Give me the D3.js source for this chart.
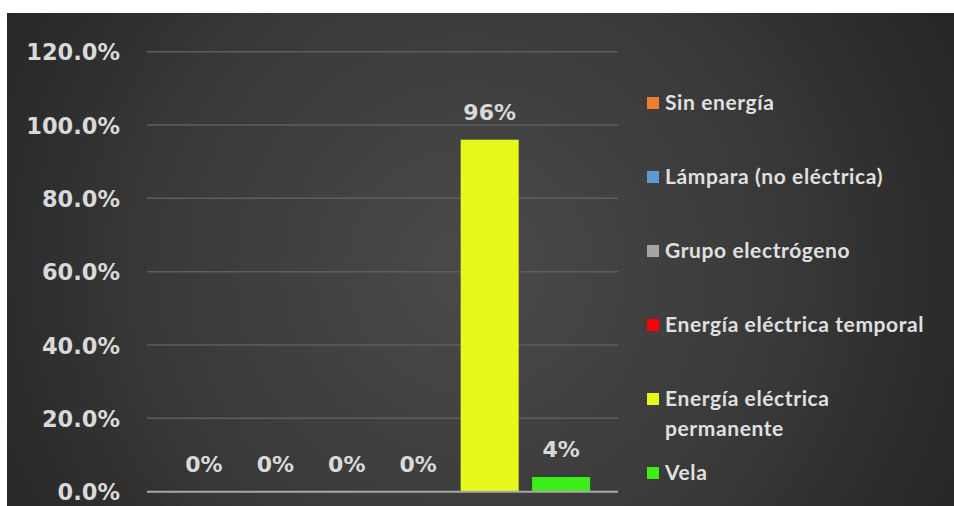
<!DOCTYPE html>
<html>
<head>
<meta charset="utf-8">
<script src="https://cdn.jsdelivr.net/npm/d3@7/dist/d3.min.js"></script>
<style>
  html, body { margin: 0; padding: 0; background: #ffffff; }
  svg { display: block; }
</style>
</head>
<body>
<svg id="chart" width="954" height="506"></svg>
<script>
// Fuente de energía para alumbrado (proporción de hogares)
const series = ["Sin energía", "Lámpara (no eléctrica)", "Grupo electrógeno",
                "Energía eléctrica temporal", "Energía eléctrica permanente", "Vela"];
const values = [0, 0, 0, 0, 0.96, 0.04];
const valueLabels = ["0%", "0%", "0%", "0%", "96%", "4%"];
const colors = ["#ed7d31", "#5b9bd5", "#a5a5a5", "#ff0000", "#e6f81c", "#3bee17"];
const legendLines = [["Sin energía"], ["Lámpara (no eléctrica)"], ["Grupo electrógeno"],
                     ["Energía eléctrica temporal"], ["Energía eléctrica", "permanente"], ["Vela"]];
const yTicks = [0, 0.2, 0.4, 0.6, 0.8, 1.0, 1.2];

const svg = d3.select("#chart");
const W = 954, H = 506;

// Panel background with a soft radial light
const defs = svg.append("defs");
const grad = defs.append("radialGradient")
  .attr("id", "bg").attr("gradientUnits", "userSpaceOnUse")
  .attr("cx", 470).attr("cy", 270).attr("r", 560);
grad.append("stop").attr("offset", "0%").attr("stop-color", "#4a4a4a");
grad.append("stop").attr("offset", "55%").attr("stop-color", "#393939");
grad.append("stop").attr("offset", "100%").attr("stop-color", "#242424");

svg.append("rect").attr("x", 7).attr("y", 13).attr("width", W - 7).attr("height", H - 13)
  .attr("fill", "url(#bg)");

const plot = { left: 147, right: 618, top: 51.7, bottom: 491.7 };

const y = d3.scaleLinear().domain([0, 1.2]).range([plot.bottom, plot.top]);
const x = d3.scaleBand().domain(series).range([plot.left, plot.right])
  .paddingInner(0.188).paddingOuter(0.39);

const labelFont = "'DejaVu Sans', Arial, sans-serif";
const textColor = "#d9d9d9";

// Gridlines
svg.append("g").selectAll("line").data(yTicks.filter(d => d > 0)).join("line")
  .attr("x1", plot.left).attr("x2", plot.right)
  .attr("y1", d => y(d)).attr("y2", d => y(d))
  .attr("stroke", "#5e5e5e").attr("stroke-width", 1.5);

// Y axis labels
const yAxis = d3.axisLeft(y).tickValues(yTicks).tickFormat(d3.format(".1%")).tickSize(0).tickPadding(0);
const gy = svg.append("g").attr("transform", `translate(120,0)`).call(yAxis);
gy.select(".domain").remove();
gy.selectAll("text")
  .attr("fill", textColor)
  .attr("font-family", labelFont).attr("font-weight", "bold").attr("font-size", 22.5)
  .attr("dy", "0.36em");

// Bars
svg.append("g").selectAll("rect").data(series).join("rect")
  .attr("x", d => x(d))
  .attr("width", x.bandwidth())
  .attr("y", (d, i) => y(values[i]))
  .attr("height", (d, i) => y(0) - y(values[i]))
  .attr("fill", (d, i) => colors[i]);

// Baseline
svg.append("line")
  .attr("x1", plot.left).attr("x2", plot.right)
  .attr("y1", y(0)).attr("y2", y(0))
  .attr("stroke", "#a8a8a8").attr("stroke-width", 2);

// Value labels
svg.append("g").selectAll("text").data(series).join("text")
  .attr("x", d => x(d) + x.bandwidth() / 2)
  .attr("y", (d, i) => y(values[i]) - 20)
  .attr("text-anchor", "middle")
  .attr("fill", textColor)
  .attr("font-family", labelFont).attr("font-weight", "bold").attr("font-size", 22)
  .text((d, i) => valueLabels[i]);

// Legend
const legendY = d3.scalePoint().domain(series).range([103, 473]);
const legend = svg.append("g").selectAll("g").data(series).join("g")
  .attr("transform", d => `translate(647,${legendY(d)})`);
legend.append("rect")
  .attr("x", 0).attr("y", -6).attr("width", 12).attr("height", 12)
  .attr("fill", (d, i) => colors[i]);
legend.append("text")
  .attr("x", 18).attr("y", 7)
  .attr("fill", "#e0e0e0")
  .attr("font-family", "Lato, 'Open Sans', sans-serif").attr("font-weight", "bold")
  .attr("font-size", 21).attr("letter-spacing", 0.6)
  .selectAll("tspan").data((d, i) => legendLines[i]).join("tspan")
  .attr("x", 18).attr("dy", (d, j) => j === 0 ? 0 : 30)
  .text(d => d);
</script>
</body>
</html>
